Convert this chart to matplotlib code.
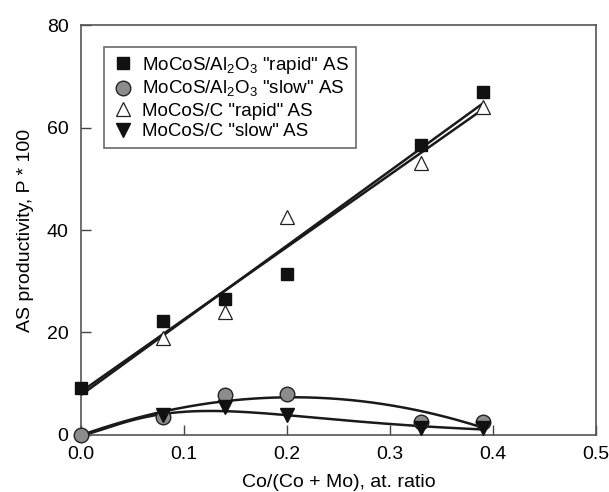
import numpy as np
import matplotlib
matplotlib.use("Agg")
import matplotlib.pyplot as plt

plt.rcParams['font.family'] = ['Liberation Sans', 'DejaVu Sans']
plt.rcParams['mathtext.fontset'] = 'custom'
plt.rcParams['mathtext.rm'] = 'Liberation Sans'

# Co/(Co+Mo) atomic ratio and AS productivity (P * 100)
x_al_rapid = [0.0, 0.08, 0.14, 0.20, 0.33, 0.39]
y_al_rapid = [9.2, 22.3, 26.5, 31.5, 56.6, 67.0]

x_al_slow = [0.0, 0.08, 0.14, 0.20, 0.33, 0.39]
y_al_slow = [0.0, 3.5, 7.8, 8.0, 2.6, 2.6]

x_c_rapid = [0.08, 0.14, 0.20, 0.33, 0.39]
y_c_rapid = [19.0, 24.0, 42.5, 53.0, 64.0]

x_c_slow = [0.08, 0.14, 0.20, 0.33, 0.39]
y_c_slow = [3.8, 5.5, 3.8, 1.3, 1.3]

x_ticks = [0.0, 0.1, 0.2, 0.3, 0.4, 0.5]
y_ticks = [0, 20, 40, 60, 80]

labels = [r'MoCoS/Al$_2$O$_3$ "rapid" AS',
          r'MoCoS/Al$_2$O$_3$ "slow" AS',
          'MoCoS/C "rapid" AS',
          'MoCoS/C "slow" AS']


def rise_decay_fit(x, y):
    """Fit y = A * x**p * exp(-x / c) by least squares on log(y)."""
    x = np.asarray(x, float)
    y = np.asarray(y, float)
    A = np.column_stack([np.ones_like(x), np.log(x), x])
    (lnA, p, q), *_ = np.linalg.lstsq(A, np.log(y), rcond=None)
    return lambda t: np.exp(lnA) * np.power(t, p) * np.exp(q * t)


fig = plt.figure(figsize=(6.09, 4.92), dpi=100)
ax = fig.add_axes([0.133, 0.116, 0.846, 0.833])

lc = '#1a1a1a'
lw = 1.8

# Linear trends for the "rapid" series
xs = np.linspace(0.0, 0.39, 50)
k1 = np.polyfit(x_al_rapid, y_al_rapid, 1)
ax.plot(xs, np.polyval(k1, xs), color=lc, lw=lw, zorder=2)
xc = np.concatenate([[0.0], x_c_rapid])
yc = np.concatenate([[y_al_rapid[0]], y_c_rapid])
k2 = np.polyfit(xc, yc, 1)
ax.plot(xs, np.polyval(k2, xs), color=lc, lw=lw, zorder=2)

# Smooth trends for the "slow" series
xq = np.linspace(0.0, 0.39, 150)
q1 = np.polyfit(x_al_slow, y_al_slow, 2)
ax.plot(xq, np.polyval(q1, xq), color=lc, lw=lw, zorder=2)
f2 = rise_decay_fit(x_c_slow, y_c_slow)
ax.plot(xq, f2(xq), color=lc, lw=lw, zorder=2)

ax.plot(x_al_rapid, y_al_rapid, ls='none', marker='s', ms=9,
        mfc='#111111', mec='#111111', label=labels[0], zorder=4, clip_on=False)
ax.plot(x_al_slow, y_al_slow, ls='none', marker='o', ms=10.5,
        mfc='#8c8c8c', mec='#222222', mew=1.0, label=labels[1], zorder=3, clip_on=False)
ax.plot(x_c_rapid, y_c_rapid, ls='none', marker='^', ms=10,
        mfc='white', mec='#222222', mew=0.9, label=labels[2], zorder=4, clip_on=False)
ax.plot(x_c_slow, y_c_slow, ls='none', marker='v', ms=10,
        mfc='#111111', mec='#111111', label=labels[3], zorder=5, clip_on=False)

ax.set_xlim(0, 0.5)
ax.set_ylim(0, 80)
ax.set_xticks(x_ticks)
ax.set_xticklabels([f'{t:.1f}' for t in x_ticks])
ax.set_yticks(y_ticks)
ax.tick_params(direction='in', length=7, width=1.0, color='#444444',
               labelsize=14)
ax.tick_params(axis='y', pad=9)
ax.tick_params(axis='x', pad=8)
for s in ax.spines.values():
    s.set_color('#555555')
    s.set_linewidth(1.2)

ax.set_xlabel('Co/(Co + Mo), at. ratio', fontsize=14, labelpad=8)
ax.set_ylabel('AS productivity, P * 100', fontsize=14, labelpad=9)

leg = ax.legend(loc='upper left', bbox_to_anchor=(0.045, 0.946), fontsize=13.5,
                frameon=True, fancybox=False, handletextpad=0.4,
                borderpad=0.4, labelspacing=0.18, handlelength=1.2,
                borderaxespad=0)
leg.get_frame().set_edgecolor('#444444')
leg.get_frame().set_linewidth(1.2)

fig.savefig('out.png', dpi=100)
